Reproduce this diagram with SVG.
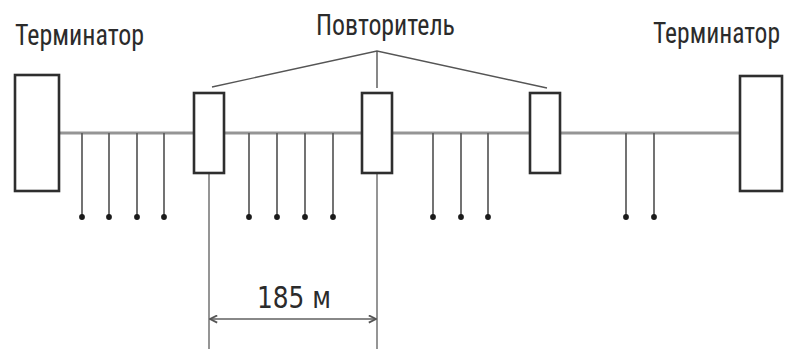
<svg xmlns="http://www.w3.org/2000/svg" width="785" height="349" viewBox="0 0 785 349">
  <defs>
    <style>
      .label { font-family: "Roboto Condensed", Roboto, "Liberation Sans", sans-serif; fill: #2b2b2b; font-size: 25px; }
      .dim { font-family: "DejaVu Sans Condensed", "DejaVu Sans", sans-serif; fill: #2b2b2b; }
      .box { fill: #ffffff; stroke: #2e2e2e; stroke-width: 2.6; }
      .bus { stroke: #959595; stroke-width: 3.2; fill: none; }
      .drop { stroke: #5a5a5a; stroke-width: 1.7; }
      .guide { stroke: #8a8a8a; stroke-width: 1.8; fill: none; }
      .callout { stroke: #555555; stroke-width: 1.4; fill: none; }
      .dot { fill: #1a1a1a; }
    </style>
    <marker id="tick" viewBox="0 0 10 10" refX="9" refY="5" markerWidth="9" markerHeight="9" markerUnits="userSpaceOnUse" orient="auto-start-reverse">
      <path d="M1,1 L9,5 L1,9" fill="none" stroke="#555" stroke-width="2"/>
    </marker>
  </defs>

  <rect width="785" height="349" fill="#ffffff"/>

  <g id="connectors">
    <!-- trunk cable -->
    <line class="bus" x1="59" y1="133" x2="740" y2="133"/>
    <!-- station drops -->
    <g class="drop">
      <line x1="82" y1="133" x2="82" y2="217"/>
      <line x1="109" y1="133" x2="109" y2="217"/>
      <line x1="137" y1="133" x2="137" y2="217"/>
      <line x1="164" y1="133" x2="164" y2="217"/>
      <line x1="249" y1="133" x2="249" y2="217"/>
      <line x1="277" y1="133" x2="277" y2="217"/>
      <line x1="305" y1="133" x2="305" y2="217"/>
      <line x1="333" y1="133" x2="333" y2="217"/>
      <line x1="433" y1="133" x2="433" y2="217"/>
      <line x1="461" y1="133" x2="461" y2="217"/>
      <line x1="488" y1="133" x2="488" y2="217"/>
      <line x1="626" y1="133" x2="626" y2="217"/>
      <line x1="654" y1="133" x2="654" y2="217"/>
    </g>
    <g class="dot">
      <circle cx="82" cy="217" r="2.9"/>
      <circle cx="109" cy="217" r="2.9"/>
      <circle cx="137" cy="217" r="2.9"/>
      <circle cx="164" cy="217" r="2.9"/>
      <circle cx="249" cy="217" r="2.9"/>
      <circle cx="277" cy="217" r="2.9"/>
      <circle cx="305" cy="217" r="2.9"/>
      <circle cx="333" cy="217" r="2.9"/>
      <circle cx="433" cy="217" r="2.9"/>
      <circle cx="461" cy="217" r="2.9"/>
      <circle cx="488" cy="217" r="2.9"/>
      <circle cx="626" cy="217" r="2.9"/>
      <circle cx="654" cy="217" r="2.9"/>
    </g>
    <!-- repeater callout lines -->
    <polyline class="callout" points="212,87 377,51 547,88"/>
    <line class="callout" x1="377" y1="51" x2="377" y2="88"/>
    <!-- dimension guides -->
    <line class="guide" x1="209" y1="173" x2="209" y2="349"/>
    <line class="guide" x1="377" y1="173" x2="377" y2="349"/>
    <line x1="210" y1="319" x2="376" y2="319" stroke="#888" stroke-width="1.8" marker-start="url(#tick)" marker-end="url(#tick)"/>
  </g>

  <g id="terminator-left">
    <rect class="box" x="15" y="75" width="44" height="116"/>
    <text class="label" transform="translate(15,45) scale(1,1.17)" textLength="129" lengthAdjust="spacingAndGlyphs">Терминатор</text>
  </g>

  <g id="repeater-1">
    <rect class="box" x="194" y="93" width="30" height="80"/>
  </g>

  <g id="repeater-2">
    <rect class="box" x="362" y="93" width="30" height="80"/>
    <text class="label" transform="translate(316,35) scale(1,1.17)" textLength="139" lengthAdjust="spacingAndGlyphs">Повторитель</text>
  </g>

  <g id="repeater-3">
    <rect class="box" x="530" y="93" width="30" height="80"/>
  </g>

  <g id="terminator-right">
    <rect class="box" x="740" y="76" width="42" height="115"/>
    <text class="label" transform="translate(653,43) scale(1,1.17)" textLength="127" lengthAdjust="spacingAndGlyphs">Терминатор</text>
  </g>

  <g id="span-label">
    <text class="dim" x="257" y="308" font-size="31" textLength="74" lengthAdjust="spacingAndGlyphs">185 м</text>
  </g>
</svg>
